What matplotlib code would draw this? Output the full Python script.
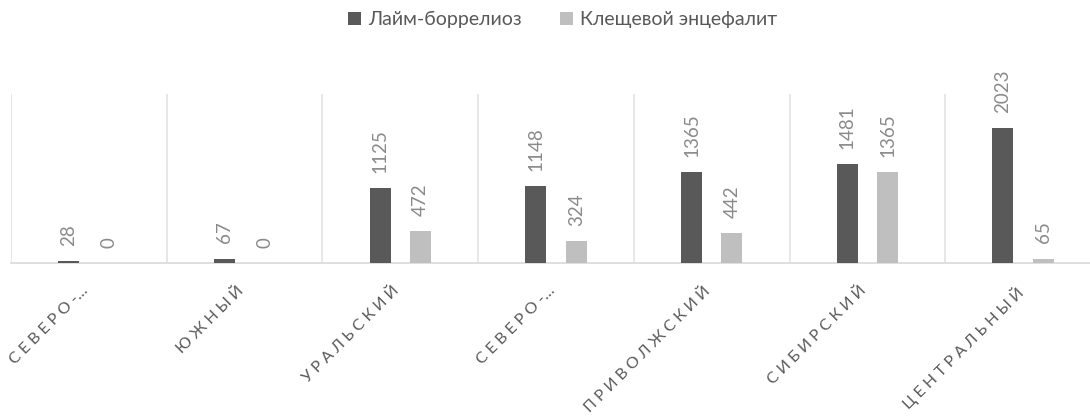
import matplotlib
matplotlib.use('Agg')
from matplotlib import pyplot as plt
from matplotlib import transforms
import numpy as np

plt.rcParams['font.family'] = ['Lato', 'DejaVu Sans']

# данные
regions = ['СЕВЕРО-…', 'ЮЖНЫЙ', 'УРАЛЬСКИЙ', 'СЕВЕРО-…',
           'ПРИВОЛЖСКИЙ', 'СИБИРСКИЙ', 'ЦЕНТРАЛЬНЫЙ']
lyme = [28, 67, 1125, 1148, 1365, 1481, 2023]
tbe = [0, 0, 472, 324, 442, 1365, 65]
series_names = ['Лайм-боррелиоз', 'Клещевой энцефалит']

dark = '#595959'
light = '#bfbfbf'
text_grey = '#595959'

fig = plt.figure(figsize=(10.9, 4.18), dpi=100)
ax = fig.add_axes([11 / 1090, 1 - 263 / 418, 1090 / 1090, (263 - 94) / 418])

x = np.arange(len(regions))
w = 0.135
b1 = ax.bar(x - 0.13, lyme, w, color=dark, label=series_names[0], zorder=3)
b2 = ax.bar(x + 0.13, tbe, w, color=light, label=series_names[1], zorder=3)

for bars in (b1, b2):
    for rect in bars:
        h = rect.get_height()
        ax.annotate(str(int(h)), (rect.get_x() + rect.get_width() / 2, h),
                    xytext=(0, 11), textcoords='offset points',
                    rotation=90, ha='center', va='bottom',
                    fontsize=13.5, color='#8a8a8a',
                    annotation_clip=False)

ax.set_xlim(-0.5, len(regions) - 0.5)
ax.set_ylim(0, 2530)

# разделители категорий
ax.set_xticks(np.arange(-0.5, len(regions)), minor=True)
ax.grid(which='minor', axis='x', color='#e3e3e3', linewidth=1.2, zorder=0)
ax.tick_params(which='both', length=0)

# разрядка букв узким пробелом (многоточие не разрежаем)
def spread(s):
    tail = '…' if s.endswith('…') else ''
    return '\u2005'.join(s.rstrip('…')) + tail

spaced = [spread(r) for r in regions]
ax.set_xticks(x)
ax.set_xticklabels(spaced, rotation=45, ha='right', va='top', rotation_mode='anchor',
                   fontsize=11.5, color=text_grey)
ax.tick_params(axis='x', pad=15)
shift = transforms.ScaledTranslation(-8 / 100, 0, fig.dpi_scale_trans)
for lbl in ax.get_xticklabels():
    lbl.set_transform(lbl.get_transform() + shift)
ax.set_yticks([])

for s in ['top', 'right', 'left']:
    ax.spines[s].set_visible(False)
ax.spines['bottom'].set_color('#d9d9d9')
ax.spines['bottom'].set_linewidth(1.2)

fig.legend(loc='upper center', bbox_to_anchor=(0.516, 1.015), ncol=2, frameon=False,
           fontsize=14, handlelength=0.65, handleheight=0.65, handletextpad=0.35,
           columnspacing=2.0, labelcolor=text_grey)

plt.savefig('out.png')
